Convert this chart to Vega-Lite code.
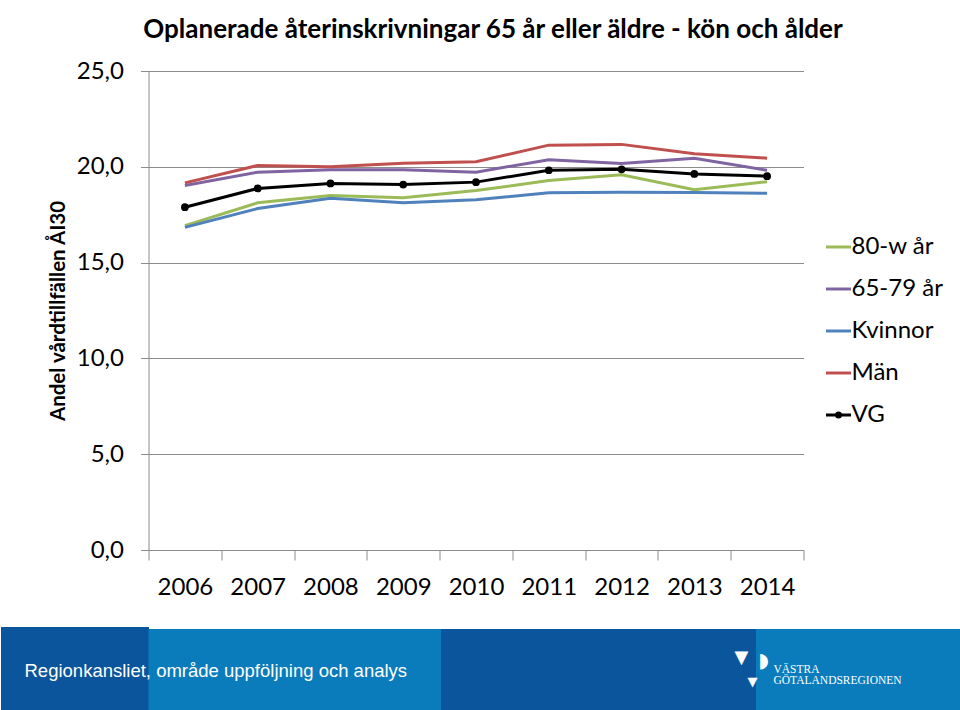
{
  "$schema": "https://vega.github.io/schema/vega-lite/v6.json",
  "padding": {"left": -2.5, "top": 17, "right": 0, "bottom": 0},
  "background": "white",
  "spacing": 27,
  "config": {
    "font": "Lato",
    "view": {"stroke": null},
    "axis": {"labelFont": "Lato", "labelFontSize": 24, "labelColor": "#000000", "domainColor": "#8c8c8c", "tickColor": "#8c8c8c", "gridColor": "#8c8c8c", "titleColor": "#000000"}
  },
  "vconcat": [
    {
      "width": 655,
      "height": 479,
      "title": {"text": "Oplanerade återinskrivningar 65 år eller äldre - kön och ålder", "font": "Lato", "fontSize": 26, "fontWeight": "bold", "color": "#000000", "anchor": "middle", "frame": "group", "baseline": "alphabetic", "offset": -5, "dx": 17},
      "data": {"values": [
        {"year": "2006", "series": "80-w år", "value": 16.93},
        {"year": "2007", "series": "80-w år", "value": 18.12},
        {"year": "2008", "series": "80-w år", "value": 18.50},
        {"year": "2009", "series": "80-w år", "value": 18.38},
        {"year": "2010", "series": "80-w år", "value": 18.76},
        {"year": "2011", "series": "80-w år", "value": 19.28},
        {"year": "2012", "series": "80-w år", "value": 19.58},
        {"year": "2013", "series": "80-w år", "value": 18.80},
        {"year": "2014", "series": "80-w år", "value": 19.22},
        {"year": "2006", "series": "65-79 år", "value": 19.02},
        {"year": "2007", "series": "65-79 år", "value": 19.72},
        {"year": "2008", "series": "65-79 år", "value": 19.84},
        {"year": "2009", "series": "65-79 år", "value": 19.84},
        {"year": "2010", "series": "65-79 år", "value": 19.72},
        {"year": "2011", "series": "65-79 år", "value": 20.37},
        {"year": "2012", "series": "65-79 år", "value": 20.17},
        {"year": "2013", "series": "65-79 år", "value": 20.45},
        {"year": "2014", "series": "65-79 år", "value": 19.82},
        {"year": "2006", "series": "Kvinnor", "value": 16.84},
        {"year": "2007", "series": "Kvinnor", "value": 17.82},
        {"year": "2008", "series": "Kvinnor", "value": 18.36},
        {"year": "2009", "series": "Kvinnor", "value": 18.12},
        {"year": "2010", "series": "Kvinnor", "value": 18.28},
        {"year": "2011", "series": "Kvinnor", "value": 18.64},
        {"year": "2012", "series": "Kvinnor", "value": 18.67},
        {"year": "2013", "series": "Kvinnor", "value": 18.66},
        {"year": "2014", "series": "Kvinnor", "value": 18.62},
        {"year": "2006", "series": "Män", "value": 19.16},
        {"year": "2007", "series": "Män", "value": 20.07},
        {"year": "2008", "series": "Män", "value": 20.00},
        {"year": "2009", "series": "Män", "value": 20.19},
        {"year": "2010", "series": "Män", "value": 20.26},
        {"year": "2011", "series": "Män", "value": 21.13},
        {"year": "2012", "series": "Män", "value": 21.17},
        {"year": "2013", "series": "Män", "value": 20.68},
        {"year": "2014", "series": "Män", "value": 20.45},
        {"year": "2006", "series": "VG", "value": 17.89},
        {"year": "2007", "series": "VG", "value": 18.87},
        {"year": "2008", "series": "VG", "value": 19.13},
        {"year": "2009", "series": "VG", "value": 19.07},
        {"year": "2010", "series": "VG", "value": 19.20},
        {"year": "2011", "series": "VG", "value": 19.82},
        {"year": "2012", "series": "VG", "value": 19.87},
        {"year": "2013", "series": "VG", "value": 19.63},
        {"year": "2014", "series": "VG", "value": 19.51}
      ]},
      "encoding": {
        "x": {"field": "year", "type": "ordinal", "scale": {"type": "band", "paddingInner": 0, "paddingOuter": 0},
          "axis": {"title": null, "labelAngle": 0, "tickBand": "extent", "tickSize": 10, "labelPadding": 15, "grid": false}},
        "y": {"field": "value", "type": "quantitative", "scale": {"domain": [0, 25], "nice": false},
          "axis": {"values": [0, 5, 10, 15, 20, 25], "labelExpr": "replace(format(datum.value, '.1f'), '.', ',')", "tickSize": 8, "labelPadding": 17, "grid": true,
            "title": "Andel vårdtillfällen ÅI30", "titleFont": "Lato", "titleFontSize": 20.5, "titleFontWeight": "bold", "titlePadding": 8}}
      },
      "layer": [
        {
          "mark": {"type": "line", "strokeWidth": 3},
          "encoding": {
            "color": {"field": "series", "type": "nominal",
              "scale": {"domain": ["80-w år", "65-79 år", "Kvinnor", "Män", "VG"], "range": ["#9BBB59", "#8064A2", "#4F81BD", "#C0504D", "#000000"]},
              "legend": {"title": null, "orient": "none", "legendX": 676, "legendY": 162, "symbolType": "stroke", "symbolSize": 625, "symbolStrokeWidth": 3,
                "labelFont": "Lato", "labelFontSize": 24, "labelColor": "#000000", "labelOffset": -1, "rowPadding": 16, "padding": 0, "labelLimit": 200,
                "encode": {"symbols": {"update": {
                  "shape": {"signal": "datum.value === 'VG' ? 'M-1,0L1,0M-0.16,0A0.16,0.16,0,1,0,0.16,0A0.16,0.16,0,1,0,-0.16,0Z' : 'stroke'"},
                  "fill": {"signal": "datum.value === 'VG' ? '#000000' : 'transparent'"}
                }}}}
            }
          }
        },
        {
          "transform": [{"filter": "datum.series === 'VG'"}],
          "mark": {"type": "point", "filled": true, "size": 60, "opacity": 1},
          "encoding": {"color": {"value": "#000000"}}
        }
      ]
    },
    {
      "width": 812,
      "height": 84,
      "layer": [
        {
          "data": {"values": [{"lo": 0, "hi": 1}]},
          "mark": {"type": "rect", "color": {"gradient": "linear", "x1": 0, "x2": 1, "y1": 0, "y2": 0, "stops": [
            {"offset": 0, "color": "#0a7cbc"}, {"offset": 0.36, "color": "#0a7cbc"},
            {"offset": 0.36, "color": "#0a559b"}, {"offset": 0.748, "color": "#0a559b"},
            {"offset": 0.748, "color": "#0a7cbc"}, {"offset": 1, "color": "#0a7cbc"}]}},
          "encoding": {
            "y": {"field": "lo", "type": "quantitative", "scale": {"domain": [0, 1], "nice": false},
              "axis": {"tickCount": 50, "tickSize": 148, "tickWidth": 5, "tickColor": "#0a559b", "labels": false, "domain": false, "grid": false, "title": null}},
            "y2": {"field": "hi"}
          }
        },
        {
          "data": {"values": [{"t": "Regionkansliet, område uppföljning och analys"}]},
          "mark": {"type": "text", "align": "left", "baseline": "middle", "dx": -530, "font": "Liberation Sans", "fontSize": 18.5, "color": "#ffffff"},
          "encoding": {"text": {"field": "t"}}
        },
        {
          "data": {"values": [{"t": "VÄSTRA"}]},
          "mark": {"type": "text", "align": "left", "baseline": "alphabetic", "dx": 219, "dy": 2, "font": "Liberation Serif", "fontSize": 11.5, "color": "#ffffff"},
          "encoding": {"text": {"field": "t"}}
        },
        {
          "data": {"values": [{"t": "GÖTALANDSREGIONEN"}]},
          "mark": {"type": "text", "align": "left", "baseline": "alphabetic", "dx": 219, "dy": 13, "font": "Liberation Serif", "fontSize": 11.5, "color": "#ffffff"},
          "encoding": {"text": {"field": "t"}}
        },
        {
          "data": {"values": [{"t": "▼"}]},
          "mark": {"type": "text", "align": "center", "baseline": "middle", "dx": 198, "dy": 11, "font": "DejaVu Sans", "fontSize": 13, "color": "#ffffff"},
          "encoding": {"text": {"field": "t"}}
        },
        {
          "data": {"values": [{"t": "▼"}]},
          "mark": {"type": "text", "align": "center", "baseline": "middle", "dx": 187, "dy": -13, "font": "DejaVu Sans", "fontSize": 18, "color": "#ffffff"},
          "encoding": {"text": {"field": "t"}}
        },
        {
          "data": {"values": [{"t": "◗"}]},
          "mark": {"type": "text", "align": "center", "baseline": "middle", "dx": 209, "dy": -10, "font": "DejaVu Sans", "fontSize": 20, "color": "#ffffff"},
          "encoding": {"text": {"field": "t"}}
        }
      ]
    }
  ]
}
